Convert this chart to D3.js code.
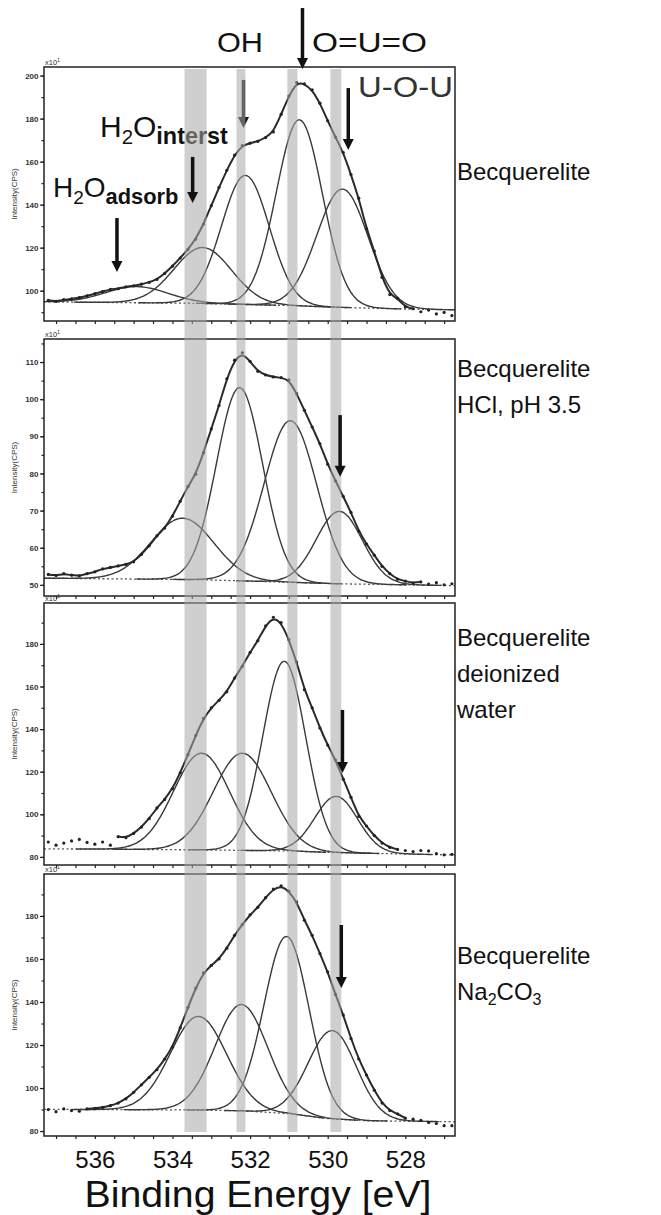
<!DOCTYPE html>
<html>
<head>
<meta charset="utf-8">
<script src="https://cdn.jsdelivr.net/npm/d3@7"></script>
<style>
  body { margin: 0; background: #fff; }
  svg { display: block; font-family: "Liberation Sans", Arial, sans-serif; }
</style>
</head>
<body>
<svg id="chart" width="661" height="1215"></svg>
<script>
"use strict";

// Figure size
const width = 661;
const height = 1215;
const plotLeft = 44;
const plotRight = 455;

// Binding energy grid of the measured points (eV)
const energies = [537.2, 537.0, 536.8, 536.6, 536.4, 536.2, 536.0, 535.8, 535.6, 535.4,
    535.2, 535.0, 534.8, 534.6, 534.4, 534.2, 534.0, 533.8, 533.6, 533.4,
    533.2, 533.0, 532.8, 532.6, 532.4, 532.2, 532.0, 531.8, 531.6, 531.4,
    531.2, 531.0, 530.8, 530.6, 530.4, 530.2, 530.0, 529.8, 529.6, 529.4,
    529.2, 529.0, 528.8, 528.6, 528.4, 528.2, 528.0, 527.8, 527.6, 527.4,
    527.2, 527.0, 526.8];

// Measured counts (x10 CPS), one list per sample
const countsBecq = [95.5, 95.0, 95.8, 96.2, 96.8, 97.6, 98.6, 99.6, 100.6, 100.9,
    101.8, 102.3, 103.0, 103.9, 105.2, 108.0, 111.4, 115.2, 119.2, 124.0,
    131.0, 139.5, 148.0, 156.0, 163.0, 167.5, 168.6, 169.4, 171.2, 173.8,
    182.0, 190.5, 196.8, 196.2, 193.4, 187.2, 179.0, 171.4, 164.2, 154.0,
    143.0, 128.8, 118.4, 106.2, 98.2, 96.4, 92.4, 91.6, 90.2, 91.0,
    89.2, 89.9, 88.4];
const countsHCl = [52.8, 52.5, 53.0, 52.6, 52.4, 53.0, 53.5, 54.3, 54.7, 55.1,
    55.5, 56.2, 58.2, 60.5, 63.2, 65.3, 68.5, 72.5, 76.5, 79.8,
    85.6, 92.0, 98.3, 105.5, 110.5, 112.5, 110.2, 107.5, 106.5, 106.0,
    105.8, 105.2, 101.5, 97.0, 92.5, 88.0, 82.5, 78.0, 73.8, 69.5,
    64.5, 61.0, 58.0, 55.0, 53.0, 51.5, 51.0, 50.5, 50.8, 50.2,
    50.6, 50.0, 50.3];
const countsWater = [87.0, 85.5, 86.5, 87.5, 88.2, 86.8, 86.0, 87.0, 85.5, 89.5,
    89.0, 91.0, 94.0, 98.0, 103.0, 107.0, 112.0, 119.5, 128.0, 137.0,
    145.0, 150.0, 153.5, 157.5, 164.0, 169.5, 176.0, 181.5, 188.5, 192.5,
    190.0, 182.0, 171.5, 158.5, 150.0, 140.5, 132.5, 125.5, 116.5, 108.0,
    99.0, 94.5, 90.0, 86.5, 84.5, 83.5, 83.0, 82.5, 83.0, 82.8,
    81.5, 81.0, 81.2];
const countsNa = [90.0, 89.0, 90.3, 89.5, 89.2, 90.3, 90.5, 91.0, 91.8, 93.0,
    95.0, 98.0, 101.5, 105.0, 108.5, 113.5, 119.0, 128.0, 137.5, 146.5,
    153.5, 157.0, 160.0, 165.0, 171.0, 176.0, 180.5, 184.0, 188.5, 192.5,
    194.0, 191.5, 186.5, 178.0, 171.0, 162.5, 154.0, 143.5, 134.0, 123.0,
    113.5, 106.0, 99.0, 93.0, 89.5, 88.0, 86.0, 85.5, 85.0, 84.0,
    83.5, 82.5, 82.5];

// energy range covered by the fit envelope
const fitFrom = [537.2, 537.2, 535.4, 536.2];
const fitTo = [527.8, 527.6, 528.2, 528.0];

// background (dashed) read at a few energies
const bgEnergyBecq = [537.31, 533.3, 531.0, 529.8, 528.1, 526.72];
const bgValueBecq = [94.8, 94.1, 93.1, 92.3, 91.5, 91.1];
const bgEnergyHCl = [537.31, 533.3, 531.0, 529.8, 526.72];
const bgValueHCl = [51.8, 51.4, 50.7, 50.3, 49.8];
const bgEnergyWater = [537.31, 535.6, 533.3, 531.0, 529.8, 528.1, 526.72];
const bgValueWater = [83.8, 83.6, 83.3, 82.8, 82.0, 81.4, 80.9];
const bgEnergyNa = [537.31, 533.4, 532.2, 531.0, 530.0, 529.0, 526.72];
const bgValueNa = [90.1, 89.8, 89.4, 88.1, 85.8, 84.8, 84.3];

// fitted components: centre (eV), height above background, FWHM (eV)
const peakCentreBecq = [534.92, 533.22, 532.12, 530.73, 529.62];
const peakHeightBecq = [7.5, 26, 60, 86.5, 55];
const peakFwhmBecq = [1.9, 1.75, 1.45, 1.4, 1.55];
const peakCentreHCl = [533.74, 532.27, 530.96, 529.70];
const peakHeightHCl = [16.5, 52, 43.5, 19.5];
const peakFwhmHCl = [1.9, 1.4, 1.6, 1.4];
const peakCentreWater = [533.25, 532.2, 531.12, 529.78];
const peakHeightWater = [45.4, 45.6, 89, 26.4];
const peakFwhmWater = [1.7, 1.75, 1.3, 1.3];
const peakCentreNa = [533.33, 532.22, 531.06, 529.88];
const peakHeightNa = [43.5, 49.4, 82.3, 41];
const peakFwhmNa = [1.7, 1.6, 1.37, 1.46];

// axes
const yDomains = [[85.9, 204], [47, 116.2], [76.2, 199.2], [77.7, 199.5]];
const yMajorStep = [20, 10, 20, 20];
const yMinorStep = [10, 5, 10, 10];
const xTickLabels = [536, 534, 532, 530, 528];

// shaded energy bands
const bandFrom = [533.69, 532.35, 531.04, 529.93];
const bandTo = [533.12, 532.12, 530.78, 529.65];

// arrows: panel, energy, start value, tip value
const arrowPanel = [0, 0, 0, 0, 0, 1, 2, 3];
const arrowEnergy = [530.65, 532.17, 529.47, 533.48, 535.43, 529.68, 529.62, 529.65];
const arrowFrom = [231.4, 198, 194.2, 162.2, 133.8, 95.7, 149, 175.8];
const arrowTo = [203.1, 175.6, 165.4, 140.8, 108.7, 79.1, 119.4, 146.5];

const sampleLabels = [
    ["Becquerelite"],
    ["Becquerelite", "HCl, pH 3.5"],
    ["Becquerelite", "deionized", "water"],
    ["Becquerelite", "Na2CO3"]
];

// panel layout
const panelTop = [67, 339, 603, 874];
const panelBottom = [321, 596, 865, 1136];
const labelBaseline = [180, 377, 646, 964];

const panels = [
    { counts: countsBecq, bgE: bgEnergyBecq, bgV: bgValueBecq, c: peakCentreBecq, h: peakHeightBecq, w: peakFwhmBecq },
    { counts: countsHCl, bgE: bgEnergyHCl, bgV: bgValueHCl, c: peakCentreHCl, h: peakHeightHCl, w: peakFwhmHCl },
    { counts: countsWater, bgE: bgEnergyWater, bgV: bgValueWater, c: peakCentreWater, h: peakHeightWater, w: peakFwhmWater },
    { counts: countsNa, bgE: bgEnergyNa, bgV: bgValueNa, c: peakCentreNa, h: peakHeightNa, w: peakFwhmNa }
];

const svg = d3.select("#chart");
svg.append("rect").attr("width", width).attr("height", height).attr("fill", "#fff");

const xScale = d3.scaleLinear().domain([537.31, 526.72]).range([plotLeft, plotRight]);
const defs = svg.append("defs");
const chartLayer = svg.append("g");
const underBandLayer = svg.append("g");
const bandLayer = svg.append("g");
const topLayer = svg.append("g");

const yScales = [];

panels.forEach((p, i) => {
    const top = panelTop[i];
    const bottom = panelBottom[i];
    const y = d3.scaleLinear().domain(yDomains[i]).range([bottom, top]);
    yScales.push(y);
    const bg = d3.scaleLinear().domain(p.bgE).range(p.bgV);

    defs.append("clipPath").attr("id", `clip${i}`)
        .append("rect")
        .attr("x", plotLeft).attr("y", top)
        .attr("width", plotRight - plotLeft).attr("height", bottom - top);

    const g = chartLayer.append("g");

    // axes
    const minor = d3.range(Math.ceil(yDomains[i][0] / yMinorStep[i]) * yMinorStep[i], yDomains[i][1], yMinorStep[i]);
    const major = minor.filter(v => v % yMajorStep[i] === 0);

    const yMinorAxis = g.append("g")
        .attr("transform", `translate(${plotLeft},0)`)
        .call(d3.axisLeft(y).tickValues(minor).tickSize(2.5).tickFormat(""));
    const yMajorAxis = g.append("g")
        .attr("transform", `translate(${plotLeft},0)`)
        .call(d3.axisLeft(y).tickValues(major).tickSize(4).tickPadding(1.5).tickFormat(d3.format("d")));
    yMajorAxis.selectAll("text")
        .style("font-size", "8px").style("font-weight", "bold").attr("fill", "#333");

    const xMinorAxis = g.append("g")
        .attr("transform", `translate(0,${bottom})`)
        .call(d3.axisBottom(xScale).tickValues(xScale.ticks(20)).tickSize(3).tickFormat(""));

    [yMinorAxis, yMajorAxis, xMinorAxis].forEach(a => {
        a.select(".domain").remove();
        a.selectAll("line").attr("stroke", "#222").attr("stroke-width", 1.2);
    });

    // x10^1 multiplier
    const mult = g.append("text")
        .attr("x", plotLeft + 1).attr("y", top - 2)
        .attr("fill", "#333").style("font-size", "7.5px");
    mult.append("tspan").text("x10");
    mult.append("tspan").attr("dy", -3).style("font-size", "5.5px").text("1");

    // axis title
    g.append("text")
        .attr("transform", `translate(17,${(top + bottom) / 2}) rotate(-90)`)
        .attr("text-anchor", "middle")
        .attr("fill", "#333")
        .style("font-size", "8px")
        .text("Intensity(CPS)");

    const plot = g.append("g").attr("clip-path", `url(#clip${i})`);

    // background
    const bgLine = d3.line().x(d => xScale(d)).y(d => y(bg(d)));
    plot.append("path")
        .attr("d", bgLine(d3.range(537.31, 526.7, -0.1)))
        .attr("fill", "none").attr("stroke", "#555")
        .attr("stroke-width", 1.3).attr("stroke-dasharray", "2,2.5");

    // components
    const compLine = d3.line().x(d => xScale(d[0])).y(d => y(d[1])).curve(d3.curveCatmullRom);
    p.c.forEach((c, k) => {
        const w = p.w[k];
        const pts = d3.range(c + 1.9 * w, c - 1.9 * w, -0.04).map(e =>
            [e, bg(e) + p.h[k] * Math.exp(-4 * Math.LN2 * (e - c) * (e - c) / (w * w))]);
        plot.append("path")
            .attr("d", compLine(pts))
            .attr("fill", "none").attr("stroke", "#3a3a3a").attr("stroke-width", 1.4);
    });

    // envelope through the measured points
    const rows = energies.map((e, k) => [e, p.counts[k]]);
    const envRows = rows.filter(d => d[0] <= fitFrom[i] + 1e-6 && d[0] >= fitTo[i] - 1e-6);
    const envLine = d3.line().x(d => xScale(d[0])).y(d => y(d[1])).curve(d3.curveBasis);
    plot.append("path")
        .attr("d", envLine(envRows))
        .attr("fill", "none").attr("stroke", "#2a2a2a").attr("stroke-width", 2);

    // measured points
    plot.selectAll("circle.pt").data(rows).enter()
        .append("circle").attr("class", "pt")
        .attr("cx", d => xScale(d[0])).attr("cy", d => y(d[1]))
        .attr("r", 1.6).attr("fill", "#222");

    // frame
    g.append("rect")
        .attr("x", plotLeft).attr("y", top)
        .attr("width", plotRight - plotLeft).attr("height", bottom - top)
        .attr("fill", "none").attr("stroke", "#222").attr("stroke-width", 1.5);

    // sample name at right
    const lab = topLayer.append("text")
        .attr("x", 457).attr("y", labelBaseline[i])
        .attr("fill", "#111").style("font-size", "24px");
    sampleLabels[i].forEach((line, k) => {
        const t = lab.append("tspan").attr("x", 457).attr("dy", k === 0 ? 0 : 36);
        if (line === "Na2CO3") {
            t.append("tspan").text("Na");
            t.append("tspan").attr("dy", 5).style("font-size", "16px").text("2");
            t.append("tspan").attr("dy", -5).text("CO");
            t.append("tspan").attr("dy", 5).style("font-size", "16px").text("3");
        } else {
            t.text(line);
        }
    });
});

// energy scale labels under the last panel
const xLabelAxis = topLayer.append("g")
    .attr("transform", `translate(0,${panelBottom[3]})`)
    .call(d3.axisBottom(xScale).tickValues(xTickLabels).tickSize(0).tickPadding(15).tickFormat(d3.format("d")));
xLabelAxis.select(".domain").remove();
xLabelAxis.selectAll("text")
    .style("font-size", "24px").style("font-family", "'Liberation Sans', Arial, sans-serif")
    .attr("fill", "#111");

topLayer.append("text")
    .attr("x", 258).attr("y", 1207)
    .attr("text-anchor", "middle")
    .attr("fill", "#111")
    .style("font-size", "36px")
    .attr("textLength", 347).attr("lengthAdjust", "spacingAndGlyphs")
    .text("Binding Energy [eV]");

// shaded bands, drawn over the spectra
bandFrom.forEach((b, k) => {
    const x0 = Math.min(xScale(b), xScale(bandTo[k]));
    const x1 = Math.max(xScale(b), xScale(bandTo[k]));
    bandLayer.append("rect")
        .attr("x", x0).attr("y", panelTop[0] + 2)
        .attr("width", x1 - x0).attr("height", panelBottom[3] - panelTop[0] - 6)
        .attr("fill", "#a8a8a8").attr("opacity", 0.55);
});

// arrows
arrowPanel.forEach((pi, k) => {
    const y = yScales[pi];
    const ax = xScale(arrowEnergy[k]);
    const y0 = y(arrowFrom[k]);
    const y1 = y(arrowTo[k]);
    const layer = k === 1 ? underBandLayer : topLayer;
    layer.append("line")
        .attr("x1", ax).attr("x2", ax)
        .attr("y1", y0).attr("y2", y1 - 9)
        .attr("stroke", "#111").attr("stroke-width", 3.5);
    layer.append("path")
        .attr("d", `M${ax - 5.5},${y1 - 11} L${ax + 5.5},${y1 - 11} L${ax},${y1} Z`)
        .attr("fill", "#111");
});

// peak labels
topLayer.append("text")
    .attr("x", 217).attr("y", 52).attr("fill", "#111")
    .style("font-size", "28px")
    .attr("textLength", 46).attr("lengthAdjust", "spacingAndGlyphs")
    .text("OH");
topLayer.append("text")
    .attr("x", 312).attr("y", 52).attr("fill", "#111")
    .style("font-size", "28px")
    .attr("textLength", 115).attr("lengthAdjust", "spacingAndGlyphs")
    .text("O=U=O");
topLayer.append("text")
    .attr("x", 358).attr("y", 97).attr("fill", "#333")
    .style("font-size", "29px")
    .attr("textLength", 95).attr("lengthAdjust", "spacingAndGlyphs")
    .text("U-O-U");

function waterLabel(layer, x, y, size, sub) {
    const t = layer.append("text").attr("x", x).attr("y", y)
        .attr("fill", "#111").style("font-size", size + "px");
    t.append("tspan").text("H");
    t.append("tspan").attr("dy", 7).style("font-size", (size * 0.68) + "px").text("2");
    t.append("tspan").attr("dy", -7).text("O");
    t.append("tspan").attr("dy", 7).style("font-size", (size * 0.78) + "px")
        .style("font-weight", "bold").text(sub);
}
waterLabel(underBandLayer, 100, 137, 30, "interst");
waterLabel(topLayer, 53, 197, 28, "adsorb");
</script>
</body>
</html>
